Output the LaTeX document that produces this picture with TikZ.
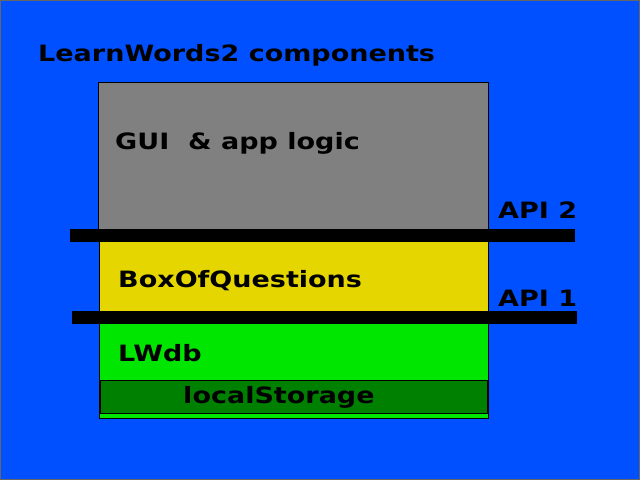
\documentclass[tikz,border=0pt]{standalone}
\usepackage{fontspec}
\setmainfont{DejaVu Sans}
\begin{document}
\begin{tikzpicture}[x=1pt,y=-1pt,
 lbl/.style={anchor=west,inner sep=0pt,xscale=1.2,font=\bfseries\fontsize{22.5}{26}\selectfont},
 box/.style={draw=black,line width=1pt}]
\useasboundingbox (0,0) rectangle (640,480);
\fill[draw=black!60,fill={rgb,255:red,0;green,80;blue,255}] (0.5,0.5) rectangle (639.5,479.5);
\node[lbl] (title) at (38,55) {LearnWords2 components};
\draw[box,fill={rgb,255:red,128;green,128;blue,128}] (98,82) rectangle (488,229);
\draw[box,fill={rgb,255:red,230;green,214;blue,0}] (99,240) rectangle (488,312);
\draw[box,fill={rgb,255:red,0;green,230;blue,0}] (99,323) rectangle (488,418);
\draw[box,fill={rgb,255:red,0;green,128;blue,0}] (100,380) rectangle (487,413);
\fill[black] (70,229) rectangle (575,242);
\fill[black] (72,311) rectangle (577,324);
\node[lbl] (gui) at (115,143) {GUI\ \ \& app logic};
\node[lbl] (boq) at (118,281) {BoxOfQuestions};
\node[lbl] (lw) at (118,353) {LWdb};
\node[lbl] (ls) at (183,397) {localStorage};
\node[lbl] (api2) at (498,210) {API 2};
\node[lbl] (api1) at (498,298) {API 1};
\end{tikzpicture}
\end{document}
